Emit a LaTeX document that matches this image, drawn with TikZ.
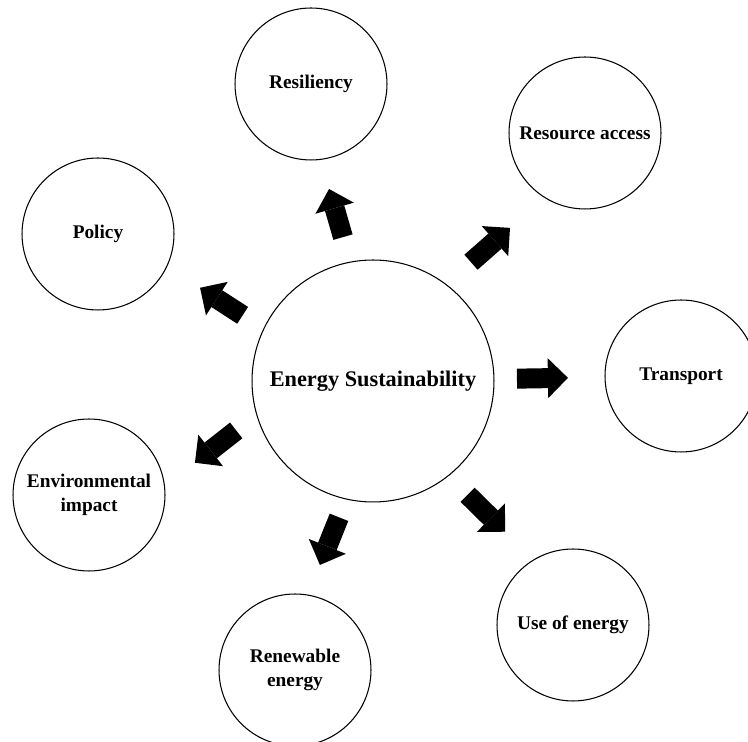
\documentclass[tikz,border=0pt]{standalone}
\usepackage{fontspec}
\setmainfont{Liberation Serif}
\usepackage{tikz}
\usetikzlibrary{calc}
\usetikzlibrary{arrows.meta}

\begin{document}
\begin{tikzpicture}[
	x=0.02cm, y=-0.02cm,
	topic/.style={
		draw,
		circle,
		line width=0.6pt,
		minimum size=3.04cm,
		inner sep=0pt,
		align=center,
		font=\fontsize{11}{13.6}\selectfont\bfseries
	},
	blockArrow/.style={
		line width=0.4cm,
		-{Triangle[width=0.8cm, length=0.4cm, line width=0pt]}
	}
]
\useasboundingbox (0,0) rectangle (748,742);

\node[
	draw,
	circle,
	line width=0.6pt,
	minimum size=4.84cm,
	font=\fontsize{12.7}{15}\selectfont\bfseries
] (es) at (373,381) {Energy Sustainability};

\node[topic] (resiliency) at (311,84) {Resiliency};
\node[topic] (resource) at (585,133) {Resource access};
\node[topic] (policy) at (98,234) {Policy};
\node[topic] (transport) at (681,376) {Transport};
\node[topic] (envImpact) at (89,495) {Environmental\\impact};
\node[topic] (renewable) at (295,670) {Renewable\\energy};
\node[topic] (useEnergy) at (573,625) {Use of energy};

% ---

\draw[blockArrow] ($(es.center)!2.94cm!(resiliency.center)$) -- ($(es.center)!3.94cm!1.1:(resiliency.center)$);

\draw[blockArrow] ($(es.center)!3.08cm!1.0:(resource.center)$) -- ($(es.center)!4.11cm!-1.3:(resource.center)$);

\draw[blockArrow] ($(es.center)!2.92cm!1.4:(policy.center)$) -- ($(es.center)!3.93cm!-0.2:(policy.center)$);

\draw[blockArrow] ($(es.center)!2.88cm!(transport.center)$) -- ($(es.center)!3.90cm!(transport.center)$);

% ---

\draw[blockArrow] ($(es.center)!2.91cm!-2.0:(envImpact.center)$) -- ($(es.center)!3.92cm!2.8:(envImpact.center)$);

\draw[blockArrow] ($(es.center)!2.81cm!1.1:(renewable.center)$) -- ($(es.center)!3.83cm!-1.0:(renewable.center)$);

\draw[blockArrow] ($(es.center)!2.96cm!0.4:(useEnergy.center)$) -- ($(es.center)!4.01cm!1.9:(useEnergy.center)$);

\end{tikzpicture}
\end{document}
